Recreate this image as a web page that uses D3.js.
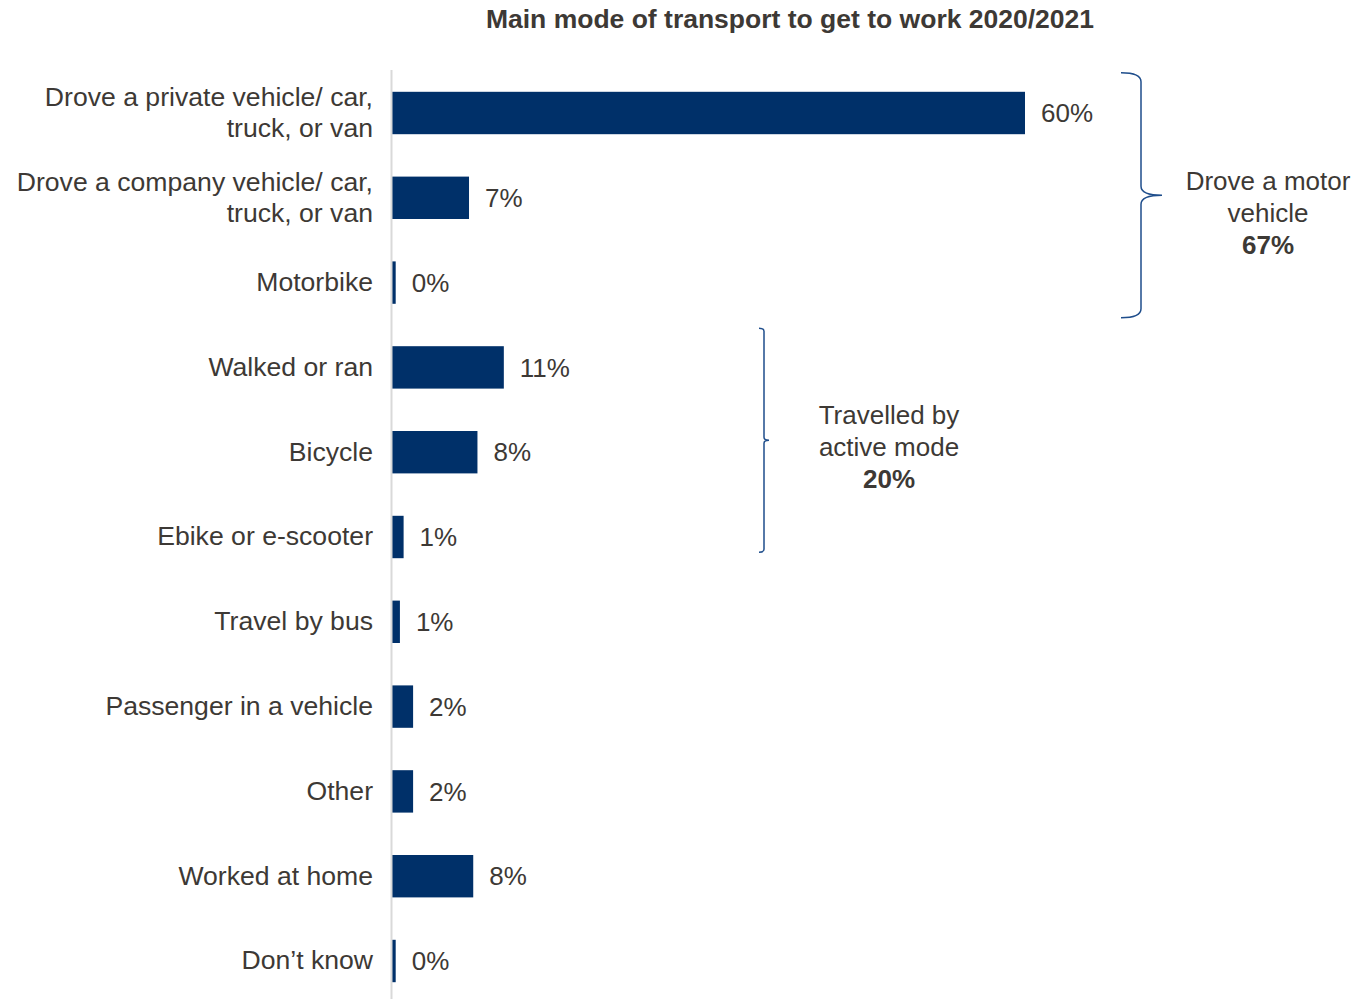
<!DOCTYPE html>
<html>
<head>
<meta charset="utf-8">
<script src="https://cdn.jsdelivr.net/npm/d3@7"></script>
<style>
  body { margin: 0; background: #fff; }
  svg { display: block; font-family: "Liberation Sans", Arial, sans-serif; }
</style>
</head>
<body>
<div id="chart"></div>
<script>
const categories = [
    ["Drove a private vehicle/ car,", "truck, or van"],
    ["Drove a company vehicle/ car,", "truck, or van"],
    ["Motorbike"],
    ["Walked or ran"],
    ["Bicycle"],
    ["Ebike or e-scooter"],
    ["Travel by bus"],
    ["Passenger in a vehicle"],
    ["Other"],
    ["Worked at home"],
    ["Don\u2019t know"]
];
const values = [60.0, 7.3, 0.35, 10.6, 8.1, 1.1, 0.75, 2.0, 2.0, 7.7, 0.35];
const valueLabels = ["60%", "7%", "0%", "11%", "8%", "1%", "1%", "2%", "2%", "8%", "0%"];

const groups = [
    { from: 0, to: 2, lines: ["Drove a motor", "vehicle"], total: "67%" },
    { from: 3, to: 5, lines: ["Travelled by", "active mode"], total: "20%" }
];

const width = 1367;
const height = 999;
const textColor = "#3d3935";
const barColor = "#003069";
const braceColor = "#1f4e8c";
const fontSize = "26px";

const svg = d3.select("#chart")
    .append("svg")
    .attr("width", width)
    .attr("height", height);

const idx = categories.map((c, i) => i);

const x = d3.scaleLinear().domain([0, 60]).range([392, 1025]);
const y = d3.scaleBand().domain(idx).range([70.6, 1003.4]).paddingInner(0.5).paddingOuter(0.25);

// title
svg.append("text")
    .attr("x", 790)
    .attr("y", 28)
    .attr("text-anchor", "middle")
    .attr("font-size", "26.5px")
    .attr("font-weight", "bold")
    .attr("fill", textColor)
    .text("Main mode of transport to get to work 2020/2021");

// bars
svg.append("g")
    .selectAll("rect")
    .data(idx)
    .join("rect")
    .attr("x", x(0))
    .attr("y", i => y(i))
    .attr("width", i => x(values[i]) - x(0))
    .attr("height", y.bandwidth())
    .attr("fill", barColor);

// axis line
svg.append("line")
    .attr("x1", x(0) - 0.5)
    .attr("x2", x(0) - 0.5)
    .attr("y1", 70)
    .attr("y2", height)
    .attr("stroke", "#d9d9d9")
    .attr("stroke-width", 2);

// category labels
const lineH = 31;
const catLabels = svg.append("g")
    .selectAll("text")
    .data(idx)
    .join("text")
    .attr("text-anchor", "end")
    .attr("font-size", "26.6px")
    .attr("fill", textColor);

catLabels.each(function (i) {
    const lines = categories[i];
    const cy = y(i) + y.bandwidth() / 2 - 1;
    const start = cy - (lines.length - 1) * lineH / 2;
    d3.select(this).selectAll("tspan")
        .data(lines)
        .join("tspan")
        .attr("x", 373)
        .attr("y", (d, k) => start + k * lineH)
        .attr("dy", "0.35em")
        .text(d => d);
});

// value labels
svg.append("g")
    .selectAll("text")
    .data(idx)
    .join("text")
    .attr("x", i => x(values[i]) + 16)
    .attr("y", i => y(i) + y.bandwidth() / 2)
    .attr("dy", "0.35em")
    .attr("font-size", fontSize)
    .attr("fill", textColor)
    .text(i => valueLabels[i]);

// braces
function bracePath(x0, top, bottom, w, tip, r) {
    const mid = (top + bottom) / 2;
    const xb = x0 + w;
    return `M${x0},${top}` +
        `Q${xb},${top} ${xb},${top + r}` +
        `L${xb},${mid - r}` +
        `Q${xb},${mid} ${xb + tip},${mid}` +
        `Q${xb},${mid} ${xb},${mid + r}` +
        `L${xb},${bottom - r}` +
        `Q${xb},${bottom} ${x0},${bottom}`;
}

const braceSpecs = [
    { x0: 1121, w: 20, tip: 21, r: 9, top: y(groups[0].from) - 19, bottom: y(groups[0].to) + y.bandwidth() + 14, tx: 1268, ty: 181 },
    { x0: 759, w: 5, tip: 5, r: 3, top: y(groups[1].from) - 18, bottom: y(groups[1].to) + y.bandwidth() - 6, tx: 889, ty: 415 }
];

groups.forEach((g, k) => {
    const b = braceSpecs[k];
    svg.append("path")
        .attr("d", bracePath(b.x0, b.top, b.bottom, b.w, b.tip, b.r))
        .attr("fill", "none")
        .attr("stroke", braceColor)
        .attr("stroke-width", 1.5);

    const t = svg.append("text")
        .attr("text-anchor", "middle")
        .attr("font-size", fontSize)
        .attr("fill", textColor);
    g.lines.concat([g.total]).forEach((s, j) => {
        t.append("tspan")
            .attr("x", b.tx)
            .attr("y", b.ty + j * 32)
            .attr("dy", "0.35em")
            .attr("font-weight", j === 2 ? "bold" : null)
            .text(s);
    });
});
</script>
</body>
</html>
